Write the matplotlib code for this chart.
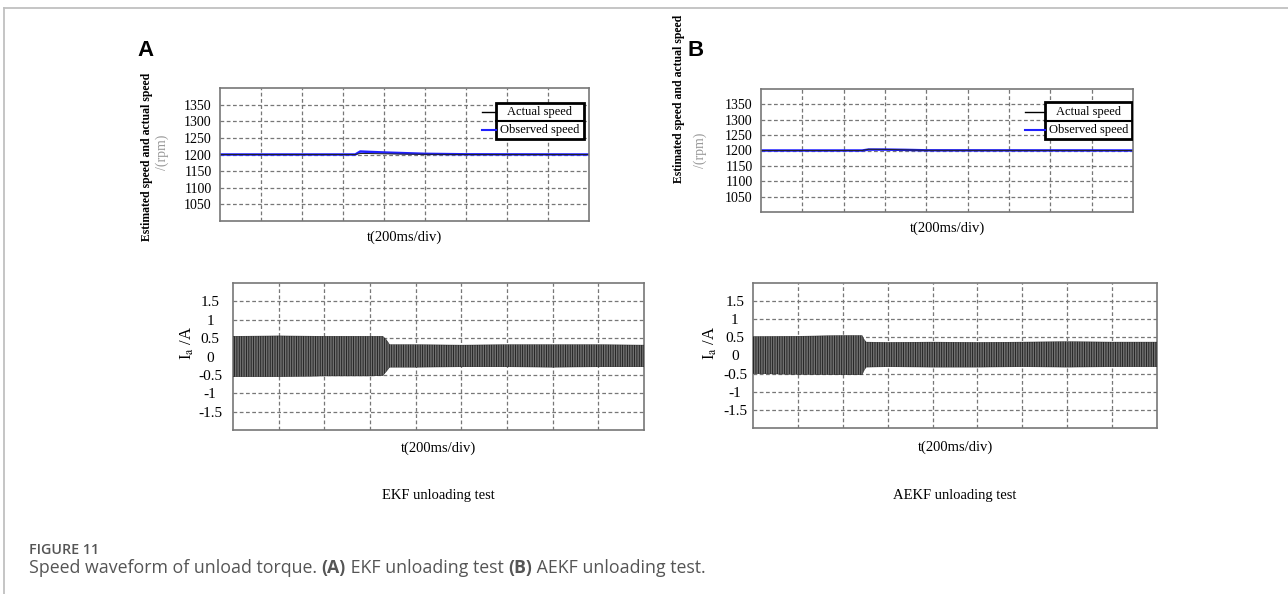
#Speed / current waveforms for the EKF and AEKF unloading tests
import numpy as np
import matplotlib.pyplot as plt
from matplotlib.patches import Rectangle
from matplotlib.lines import Line2D

plt.rcParams['font.family'] = ['Liberation Serif', 'DejaVu Serif']
plt.rcParams['mathtext.fontset'] = 'stix'
plt.rcParams['hatch.linewidth'] = 0.6

#Speed data (time in divisions of 200 ms)
t_spd_a = [0, 3.3, 3.42, 3.6, 4.0, 4.5, 5.0, 6.0, 9.0]
act_spd_a = [1200, 1200, 1203, 1203, 1202, 1201, 1200.5, 1200, 1200]
obs_spd_a = [1200, 1200, 1209, 1208, 1206, 1204, 1202, 1200.5, 1200]

t_spd_b = [0, 2.45, 2.6, 3.0, 3.5, 4.0, 9.0]
act_spd_b = [1200, 1200, 1204, 1203.5, 1202, 1200.5, 1200]
obs_spd_b = [1200, 1200, 1203, 1203, 1202, 1200.5, 1200]

#Phase current envelope (upper / lower peaks)
t_cur_a = [0, 1, 2, 3, 3.28, 3.36, 3.43, 4, 5, 6, 7, 8, 9]
up_cur_a = [0.55, 0.56, 0.55, 0.55, 0.55, 0.45, 0.32, 0.32, 0.31, 0.32, 0.32, 0.32, 0.31]
lo_cur_a = [-0.55, -0.55, -0.53, -0.53, -0.52, -0.40, -0.29, -0.29, -0.28, -0.28, -0.29, -0.28, -0.28]

t_cur_b = [0, 1, 2, 2.43, 2.47, 2.52, 3, 4, 5, 6, 7, 8, 9]
up_cur_b = [0.52, 0.53, 0.55, 0.55, 0.45, 0.37, 0.36, 0.37, 0.36, 0.37, 0.38, 0.37, 0.37]
lo_cur_b = [-0.50, -0.52, -0.53, -0.53, -0.42, -0.32, -0.31, -0.32, -0.32, -0.31, -0.32, -0.31, -0.31]

spd_ticks = [1050, 1100, 1150, 1200, 1250, 1300, 1350]
cur_ticks = [-1.5, -1, -0.5, 0, 0.5, 1, 1.5]
cur_labels = ['-1.5', '-1', '-0.5', '0', '0.5', '1', '1.5']

W, H = 1288, 594
fig = plt.figure(figsize=(W/100, H/100), dpi=100)

def box(l, t, r, b):
    return [l/W, 1-b/H, (r-l)/W, (b-t)/H]

def style(ax):
    ax.set_xlim(0, 9)
    ax.set_xticks(range(1, 9))
    ax.tick_params(axis='x', length=0, labelbottom=False)
    ax.tick_params(axis='y', length=0)
    ax.grid(True, color='#777', linestyle=(0, (3, 2)), linewidth=0.9)
    for s in ax.spines.values():
        s.set_color('#777')
        s.set_linewidth(1.2)

def speed_legend(ax, x0, x1, y0, ym, y1, lx):
    ax.add_patch(Rectangle((x0, y0), x1-x0, y1-y0, transform=ax.transAxes,
                           fill=True, facecolor='white', edgecolor='black', lw=2, zorder=5))
    ax.add_artist(Line2D([x0, x1], [ym, ym], transform=ax.transAxes, color='black', lw=1.5, zorder=6))
    ax.add_artist(Line2D([lx, x0], [(ym+y1)/2]*2, transform=ax.transAxes, color='black', lw=1, zorder=6))
    ax.add_artist(Line2D([lx, x0], [(ym+y0)/2]*2, transform=ax.transAxes, color='#2020ff', lw=1.5, zorder=6))
    ax.text((x0+x1)/2, (ym+y1)/2, 'Actual speed', transform=ax.transAxes,
            ha='center', va='center', fontsize=9, zorder=7)
    ax.text((x0+x1)/2, (ym+y0)/2, 'Observed speed', transform=ax.transAxes,
            ha='center', va='center', fontsize=9, zorder=7)

#Top speed plots
panels = [
    (box(220, 88, 589, 221), t_spd_a, act_spd_a, obs_spd_a, (-0.198, 0.48), (-0.157, 0.52),
     -0.12, (0.748, 0.986, 0.617, 0.752, 0.887, 0.71)),
    (box(761, 89, 1133, 212), t_spd_b, act_spd_b, obs_spd_b, (-0.221, 0.92), (-0.164, 0.50),
     -0.13, (0.763, 0.997, 0.593, 0.74, 0.894, 0.71)),
]
for pos, t, act, obs, lab1, lab2, xl, leg in panels:
    ax = fig.add_axes(pos)
    style(ax)
    ax.set_ylim(1000, 1400)
    ax.set_yticks(spd_ticks)
    ax.tick_params(axis='y', pad=6, labelsize=10)
    ax.plot(t, obs, color='#2020ff', lw=1.8)
    ax.plot(t, act, color='#222', lw=0.7)
    ax.text(lab1[0], lab1[1], 'Estimated speed and actual speed', transform=ax.transAxes,
            rotation=90, ha='center', va='center', fontsize=8.5, fontweight='bold')
    ax.text(lab2[0], lab2[1], '/(rpm)', transform=ax.transAxes, rotation=90,
            ha='center', va='center', fontsize=10, color='#999')
    ax.text(0.5, xl, 't(200ms/div)', transform=ax.transAxes, ha='center', va='center', fontsize=10.5)
    speed_legend(ax, *leg)

#Bottom current plots
panels = [
    (box(233, 283, 644, 430), t_cur_a, up_cur_a, lo_cur_a, -0.112, -0.122, 16.5),
    (box(753, 283, 1157, 428), t_cur_b, up_cur_b, lo_cur_b, -0.106, -0.131, 13),
]
for pos, t, up, lo, yl, xl, pad in panels:
    ax = fig.add_axes(pos)
    style(ax)
    ax.set_ylim(-2, 2)
    ax.set_yticks(cur_ticks)
    ax.set_yticklabels(cur_labels, ha='center')
    ax.tick_params(axis='y', pad=pad, labelsize=11)
    ax.fill_between(t, lo, up, facecolor='#707070', edgecolor='#1a1a1a',
                    hatch='|||||||', lw=0.3, zorder=3)
    ax.text(yl, 0.59, r'I$_\mathrm{a}$ /A', transform=ax.transAxes, rotation=90,
            ha='center', va='center', fontsize=12)
    ax.text(0.5, xl, 't(200ms/div)', transform=ax.transAxes, ha='center', va='center', fontsize=10.5)

fig.text(438/W, 1-495/H, 'EKF unloading test', ha='center', va='center', fontsize=10.5)
fig.text(955/W, 1-495/H, 'AEKF unloading test', ha='center', va='center', fontsize=10.5)

#Panel letters
fig.text(146/W, 1-50/H, 'A', ha='center', va='center', fontsize=16, fontweight='bold',
         family='Liberation Sans')
fig.text(696/W, 1-50/H, 'B', ha='center', va='center', fontsize=16, fontweight='bold',
         family='Liberation Sans')

#Frame lines
fig.add_artist(Line2D([4/W, 1], [1-8/H]*2, transform=fig.transFigure, color='#c0c0c0', lw=1.3))
fig.add_artist(Line2D([4/W]*2, [0, 1-8/H], transform=fig.transFigure, color='#c0c0c0', lw=1.3))

#Caption
cap = dict(family='Open Sans', color='#555')
fig.text(29/W, 1-550/H, 'FIGURE 11', va='center', ha='left', fontweight='semibold',
         fontsize=10.3, **cap)
cax = fig.add_axes([0, 0, 1, 1])
cax.axis('off')
pieces = [('Speed waveform of unload torque. ', 'normal'), ('(A)', 'bold'),
          (' EKF unloading test ', 'normal'), ('(B)', 'bold'), (' AEKF unloading test.', 'normal')]
prev = cax.text(29/W, 1-577/H, pieces[0][0], transform=fig.transFigure,
                va='bottom', ha='left', fontweight=pieces[0][1], fontsize=12.8, **cap)
for s, w in pieces[1:]:
    prev = cax.annotate(s, xy=(1, 0), xycoords=prev, va='bottom', ha='left', fontweight=w,
                        fontsize=12.8, **cap)

plt.savefig('out.png', dpi=100)
